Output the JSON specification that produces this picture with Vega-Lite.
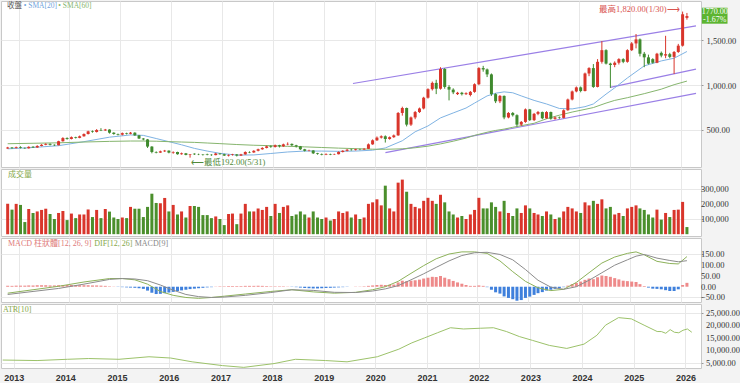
{
"$schema": "https://vega.github.io/schema/vega-lite/v6.json",
"padding": 0,
"spacing": 0,
"background": "#f3f3f3",
"config": {
  "view": {"stroke": "#c8c8c8", "fill": "white"},
  "axis": {"labelFont": "Liberation Serif", "labelFontSize": 8.5, "labelColor": "#333", "gridColor": "#e8e8e8", "domain": false, "tickColor": "#999", "tickSize": 2, "title": null, "labelOverlap": false, "labelBound": false},
  "text": {"font": "Liberation Serif, Noto Sans CJK TC", "fontSize": 8}
},
"datasets": {
"one": [{}],
"yv": [{"y":100000},{"y":200000},{"y":300000}],
"ym": [{"y":-50},{"y":0},{"y":50},{"y":100},{"y":150}],
"ya": [{"y":5000},{"y":10000},{"y":15000},{"y":20000},{"y":25000}],
"m": [
{"d":"2012-10-15","o":295,"h":312,"l":290,"c":305,"v":200000,"vr":1,"mh":4},
{"d":"2012-11-15","o":305,"h":310,"l":290,"c":298,"v":162000,"vr":0,"mh":4},
{"d":"2012-12-15","o":298,"h":315,"l":295,"c":308,"v":200000,"vr":1,"mh":5},
{"d":"2013-01-15","o":308,"h":318,"l":295,"c":300,"v":193000,"vr":0,"mh":5},
{"d":"2013-02-15","o":300,"h":305,"l":290,"c":296,"v":80000,"vr":0,"mh":5},
{"d":"2013-03-15","o":296,"h":318,"l":293,"c":312,"v":166000,"vr":1,"mh":6},
{"d":"2013-04-15","o":312,"h":320,"l":300,"c":305,"v":140000,"vr":0,"mh":6},
{"d":"2013-05-15","o":305,"h":330,"l":302,"c":322,"v":150000,"vr":1,"mh":7},
{"d":"2013-06-15","o":322,"h":342,"l":318,"c":335,"v":160000,"vr":1,"mh":7},
{"d":"2013-07-15","o":335,"h":352,"l":330,"c":345,"v":168000,"vr":1,"mh":7},
{"d":"2013-08-15","o":345,"h":350,"l":328,"c":335,"v":133000,"vr":0,"mh":6},
{"d":"2013-09-15","o":335,"h":340,"l":322,"c":330,"v":100000,"vr":0,"mh":6},
{"d":"2013-10-15","o":330,"h":380,"l":328,"c":375,"v":140000,"vr":1,"mh":7},
{"d":"2013-11-15","o":375,"h":420,"l":370,"c":410,"v":153000,"vr":1,"mh":8},
{"d":"2013-12-15","o":410,"h":418,"l":392,"c":400,"v":93000,"vr":0,"mh":8},
{"d":"2014-01-15","o":400,"h":428,"l":395,"c":420,"v":136000,"vr":1,"mh":8},
{"d":"2014-02-15","o":420,"h":425,"l":405,"c":412,"v":106000,"vr":0,"mh":7},
{"d":"2014-03-15","o":412,"h":438,"l":408,"c":430,"v":130000,"vr":1,"mh":7},
{"d":"2014-04-15","o":430,"h":462,"l":425,"c":455,"v":130000,"vr":1,"mh":7},
{"d":"2014-05-15","o":455,"h":492,"l":450,"c":485,"v":163000,"vr":1,"mh":7},
{"d":"2014-06-15","o":485,"h":495,"l":470,"c":478,"v":113000,"vr":0,"mh":6},
{"d":"2014-07-15","o":478,"h":510,"l":472,"c":500,"v":160000,"vr":1,"mh":6},
{"d":"2014-08-15","o":500,"h":520,"l":488,"c":495,"v":106000,"vr":0,"mh":5},
{"d":"2014-09-15","o":495,"h":512,"l":490,"c":505,"v":166000,"vr":1,"mh":4},
{"d":"2014-10-15","o":505,"h":508,"l":460,"c":470,"v":149000,"vr":0,"mh":2},
{"d":"2014-11-15","o":470,"h":475,"l":448,"c":455,"v":110000,"vr":0,"mh":1},
{"d":"2014-12-15","o":455,"h":460,"l":440,"c":448,"v":100000,"vr":0,"mh":-1},
{"d":"2015-01-15","o":448,"h":472,"l":440,"c":465,"v":110000,"vr":1,"mh":-2},
{"d":"2015-02-15","o":465,"h":470,"l":450,"c":458,"v":106000,"vr":0,"mh":-3},
{"d":"2015-03-15","o":458,"h":478,"l":452,"c":470,"v":180000,"vr":1,"mh":-4},
{"d":"2015-04-15","o":470,"h":475,"l":435,"c":440,"v":168000,"vr":0,"mh":-5},
{"d":"2015-05-15","o":440,"h":445,"l":400,"c":405,"v":168000,"vr":0,"mh":-7},
{"d":"2015-06-15","o":405,"h":410,"l":385,"c":395,"v":113000,"vr":0,"mh":-10},
{"d":"2015-07-15","o":395,"h":400,"l":300,"c":315,"v":180000,"vr":0,"mh":-18},
{"d":"2015-08-15","o":315,"h":320,"l":240,"c":255,"v":267000,"vr":0,"mh":-28},
{"d":"2015-09-15","o":255,"h":262,"l":240,"c":248,"v":206000,"vr":0,"mh":-34},
{"d":"2015-10-15","o":248,"h":270,"l":245,"c":262,"v":204000,"vr":1,"mh":-33},
{"d":"2015-11-15","o":262,"h":278,"l":255,"c":270,"v":239000,"vr":1,"mh":-30},
{"d":"2015-12-15","o":270,"h":272,"l":240,"c":248,"v":150000,"vr":0,"mh":-27},
{"d":"2016-01-15","o":248,"h":262,"l":235,"c":255,"v":193000,"vr":1,"mh":-24},
{"d":"2016-02-15","o":255,"h":258,"l":225,"c":230,"v":130000,"vr":0,"mh":-20},
{"d":"2016-03-15","o":230,"h":248,"l":225,"c":240,"v":150000,"vr":1,"mh":-17},
{"d":"2016-04-15","o":240,"h":244,"l":218,"c":222,"v":110000,"vr":0,"mh":-14},
{"d":"2016-05-15","o":222,"h":232,"l":192,"c":228,"v":186000,"vr":1,"mh":-11},
{"d":"2016-06-15","o":236,"h":240,"l":222,"c":229,"v":186000,"vr":0,"mh":-9},
{"d":"2016-07-15","o":229,"h":236,"l":220,"c":226,"v":180000,"vr":0,"mh":-7},
{"d":"2016-08-15","o":226,"h":232,"l":215,"c":222,"v":126000,"vr":0,"mh":-5},
{"d":"2016-09-15","o":230,"h":236,"l":218,"c":224,"v":126000,"vr":0,"mh":-3},
{"d":"2016-10-15","o":224,"h":230,"l":212,"c":220,"v":106000,"vr":0,"mh":-2},
{"d":"2016-11-15","o":220,"h":245,"l":218,"c":238,"v":117000,"vr":1,"mh":1},
{"d":"2016-12-15","o":238,"h":242,"l":225,"c":230,"v":100000,"vr":0,"mh":2},
{"d":"2017-01-15","o":230,"h":235,"l":210,"c":215,"v":60000,"vr":0,"mh":2},
{"d":"2017-02-15","o":215,"h":228,"l":205,"c":222,"v":133000,"vr":1,"mh":3},
{"d":"2017-03-15","o":222,"h":234,"l":215,"c":228,"v":136000,"vr":1,"mh":3},
{"d":"2017-04-15","o":228,"h":232,"l":205,"c":215,"v":66000,"vr":0,"mh":3},
{"d":"2017-05-15","o":215,"h":234,"l":210,"c":228,"v":136000,"vr":1,"mh":3},
{"d":"2017-06-15","o":228,"h":262,"l":225,"c":255,"v":200000,"vr":1,"mh":4},
{"d":"2017-07-15","o":255,"h":262,"l":242,"c":250,"v":150000,"vr":0,"mh":4},
{"d":"2017-08-15","o":250,"h":275,"l":245,"c":268,"v":150000,"vr":1,"mh":4},
{"d":"2017-09-15","o":268,"h":292,"l":262,"c":285,"v":170000,"vr":1,"mh":4},
{"d":"2017-10-15","o":285,"h":308,"l":280,"c":300,"v":160000,"vr":1,"mh":4},
{"d":"2017-11-15","o":300,"h":326,"l":295,"c":318,"v":180000,"vr":1,"mh":3},
{"d":"2017-12-15","o":318,"h":330,"l":302,"c":310,"v":120000,"vr":0,"mh":2},
{"d":"2018-01-15","o":310,"h":338,"l":305,"c":330,"v":200000,"vr":1,"mh":2},
{"d":"2018-02-15","o":330,"h":335,"l":305,"c":318,"v":140000,"vr":0,"mh":2},
{"d":"2018-03-15","o":318,"h":348,"l":312,"c":340,"v":180000,"vr":1,"mh":2},
{"d":"2018-04-15","o":340,"h":362,"l":330,"c":345,"v":190000,"vr":1,"mh":1},
{"d":"2018-05-15","o":345,"h":350,"l":322,"c":330,"v":120000,"vr":0,"mh":-1},
{"d":"2018-06-15","o":330,"h":335,"l":305,"c":318,"v":130000,"vr":0,"mh":-2},
{"d":"2018-07-15","o":318,"h":322,"l":278,"c":285,"v":150000,"vr":0,"mh":-4},
{"d":"2018-08-15","o":285,"h":290,"l":260,"c":268,"v":130000,"vr":0,"mh":-6},
{"d":"2018-09-15","o":268,"h":280,"l":262,"c":272,"v":110000,"vr":1,"mh":-7},
{"d":"2018-10-15","o":272,"h":275,"l":232,"c":240,"v":150000,"vr":0,"mh":-8},
{"d":"2018-11-15","o":240,"h":245,"l":225,"c":232,"v":110000,"vr":0,"mh":-8},
{"d":"2018-12-15","o":232,"h":238,"l":218,"c":225,"v":100000,"vr":0,"mh":-7},
{"d":"2019-01-15","o":225,"h":240,"l":220,"c":232,"v":110000,"vr":1,"mh":-6},
{"d":"2019-02-15","o":232,"h":236,"l":220,"c":226,"v":90000,"vr":0,"mh":-5},
{"d":"2019-03-15","o":226,"h":236,"l":222,"c":230,"v":100000,"vr":1,"mh":-4},
{"d":"2019-04-15","o":230,"h":262,"l":228,"c":255,"v":150000,"vr":1,"mh":-3},
{"d":"2019-05-15","o":255,"h":275,"l":250,"c":268,"v":140000,"vr":1,"mh":-2},
{"d":"2019-06-15","o":268,"h":288,"l":262,"c":280,"v":150000,"vr":1,"mh":-1},
{"d":"2019-07-15","o":280,"h":290,"l":270,"c":276,"v":110000,"vr":0,"mh":0},
{"d":"2019-08-15","o":276,"h":292,"l":272,"c":285,"v":130000,"vr":1,"mh":1},
{"d":"2019-09-15","o":285,"h":292,"l":275,"c":282,"v":100000,"vr":0,"mh":1},
{"d":"2019-10-15","o":282,"h":298,"l":278,"c":290,"v":110000,"vr":1,"mh":2},
{"d":"2019-11-15","o":290,"h":350,"l":288,"c":340,"v":200000,"vr":1,"mh":4},
{"d":"2019-12-15","o":340,"h":395,"l":335,"c":385,"v":210000,"vr":1,"mh":6},
{"d":"2020-01-15","o":385,"h":428,"l":378,"c":415,"v":230000,"vr":1,"mh":8},
{"d":"2020-02-15","o":415,"h":440,"l":405,"c":430,"v":190000,"vr":1,"mh":9},
{"d":"2020-03-15","o":430,"h":440,"l":360,"c":400,"v":320000,"vr":0,"mh":8},
{"d":"2020-04-15","o":400,"h":428,"l":392,"c":420,"v":170000,"vr":1,"mh":9},
{"d":"2020-05-15","o":420,"h":450,"l":412,"c":440,"v":150000,"vr":1,"mh":10},
{"d":"2020-06-15","o":440,"h":700,"l":435,"c":690,"v":340000,"vr":1,"mh":20},
{"d":"2020-07-15","o":690,"h":760,"l":660,"c":745,"v":360000,"vr":1,"mh":28},
{"d":"2020-08-15","o":745,"h":750,"l":540,"c":560,"v":280000,"vr":0,"mh":26},
{"d":"2020-09-15","o":560,"h":650,"l":545,"c":640,"v":200000,"vr":1,"mh":28},
{"d":"2020-10-15","o":640,"h":712,"l":620,"c":700,"v":180000,"vr":1,"mh":30},
{"d":"2020-11-15","o":700,"h":750,"l":690,"c":740,"v":170000,"vr":1,"mh":33},
{"d":"2020-12-15","o":740,"h":870,"l":730,"c":860,"v":220000,"vr":1,"mh":38},
{"d":"2021-01-15","o":860,"h":965,"l":850,"c":955,"v":240000,"vr":1,"mh":42},
{"d":"2021-02-15","o":955,"h":1040,"l":940,"c":1025,"v":220000,"vr":1,"mh":46},
{"d":"2021-03-15","o":1025,"h":1060,"l":900,"c":960,"v":200000,"vr":0,"mh":45},
{"d":"2021-04-15","o":960,"h":1200,"l":950,"c":1180,"v":260000,"vr":1,"mh":50},
{"d":"2021-05-15","o":1180,"h":1190,"l":960,"c":980,"v":210000,"vr":0,"mh":42},
{"d":"2021-06-15","o":980,"h":1000,"l":830,"c":950,"v":150000,"vr":0,"mh":35},
{"d":"2021-07-15","o":950,"h":965,"l":900,"c":920,"v":130000,"vr":0,"mh":27},
{"d":"2021-08-15","o":900,"h":925,"l":890,"c":915,"v":110000,"vr":1,"mh":20},
{"d":"2021-09-15","o":915,"h":925,"l":885,"c":900,"v":120000,"vr":0,"mh":14},
{"d":"2021-10-15","o":900,"h":920,"l":890,"c":910,"v":100000,"vr":1,"mh":8},
{"d":"2021-11-15","o":890,"h":935,"l":875,"c":925,"v":130000,"vr":1,"mh":4},
{"d":"2021-12-15","o":925,"h":1020,"l":915,"c":1010,"v":160000,"vr":1,"mh":4},
{"d":"2022-01-15","o":1010,"h":1200,"l":1000,"c":1190,"v":240000,"vr":1,"mh":6},
{"d":"2022-02-15","o":1190,"h":1215,"l":1150,"c":1175,"v":170000,"vr":0,"mh":4},
{"d":"2022-03-15","o":1175,"h":1185,"l":1090,"c":1120,"v":170000,"vr":0,"mh":-2},
{"d":"2022-04-15","o":1120,"h":1130,"l":880,"c":900,"v":210000,"vr":0,"mh":-14},
{"d":"2022-05-15","o":900,"h":910,"l":800,"c":820,"v":180000,"vr":0,"mh":-26},
{"d":"2022-06-15","o":820,"h":890,"l":800,"c":880,"v":150000,"vr":1,"mh":-32},
{"d":"2022-07-15","o":880,"h":885,"l":620,"c":640,"v":220000,"vr":0,"mh":-45},
{"d":"2022-08-15","o":640,"h":700,"l":630,"c":690,"v":140000,"vr":1,"mh":-52},
{"d":"2022-09-15","o":690,"h":700,"l":650,"c":665,"v":120000,"vr":0,"mh":-58},
{"d":"2022-10-15","o":665,"h":675,"l":540,"c":560,"v":170000,"vr":0,"mh":-65},
{"d":"2022-11-15","o":560,"h":600,"l":545,"c":590,"v":140000,"vr":1,"mh":-62},
{"d":"2022-12-15","o":590,"h":740,"l":580,"c":730,"v":190000,"vr":1,"mh":-52},
{"d":"2023-01-15","o":730,"h":735,"l":600,"c":610,"v":170000,"vr":0,"mh":-46},
{"d":"2023-02-15","o":610,"h":690,"l":600,"c":680,"v":140000,"vr":1,"mh":-38},
{"d":"2023-03-15","o":680,"h":712,"l":665,"c":700,"v":130000,"vr":1,"mh":-30},
{"d":"2023-04-15","o":700,"h":705,"l":620,"c":630,"v":120000,"vr":0,"mh":-25},
{"d":"2023-05-15","o":630,"h":710,"l":625,"c":700,"v":150000,"vr":1,"mh":-18},
{"d":"2023-06-15","o":700,"h":705,"l":615,"c":625,"v":130000,"vr":0,"mh":-14},
{"d":"2023-07-15","o":625,"h":650,"l":615,"c":640,"v":100000,"vr":1,"mh":-10},
{"d":"2023-08-15","o":640,"h":650,"l":625,"c":635,"v":110000,"vr":0,"mh":-6},
{"d":"2023-09-15","o":635,"h":730,"l":630,"c":720,"v":150000,"vr":1,"mh":-2},
{"d":"2023-10-15","o":720,"h":850,"l":715,"c":840,"v":180000,"vr":1,"mh":5},
{"d":"2023-11-15","o":840,"h":940,"l":830,"c":930,"v":170000,"vr":1,"mh":12},
{"d":"2023-12-15","o":930,"h":985,"l":920,"c":975,"v":150000,"vr":1,"mh":18},
{"d":"2024-01-15","o":975,"h":985,"l":920,"c":935,"v":140000,"vr":0,"mh":24},
{"d":"2024-02-15","o":935,"h":1140,"l":930,"c":1130,"v":210000,"vr":1,"mh":32},
{"d":"2024-03-15","o":1130,"h":1200,"l":1100,"c":1190,"v":190000,"vr":1,"mh":38},
{"d":"2024-04-15","o":1190,"h":1235,"l":970,"c":980,"v":220000,"vr":0,"mh":35},
{"d":"2024-05-15","o":980,"h":1290,"l":975,"c":1260,"v":200000,"vr":1,"mh":44},
{"d":"2024-06-15","o":1260,"h":1490,"l":1240,"c":1390,"v":230000,"vr":1,"mh":52},
{"d":"2024-07-15","o":1390,"h":1400,"l":1230,"c":1240,"v":170000,"vr":0,"mh":50},
{"d":"2024-08-15","o":1240,"h":1250,"l":970,"c":1225,"v":180000,"vr":0,"mh":46},
{"d":"2024-09-15","o":1225,"h":1265,"l":1200,"c":1250,"v":130000,"vr":1,"mh":40},
{"d":"2024-10-15","o":1250,"h":1300,"l":1230,"c":1290,"v":140000,"vr":1,"mh":34},
{"d":"2024-11-15","o":1290,"h":1300,"l":1245,"c":1260,"v":120000,"vr":0,"mh":28},
{"d":"2024-12-15","o":1260,"h":1400,"l":1250,"c":1390,"v":170000,"vr":1,"mh":26},
{"d":"2025-01-15","o":1390,"h":1480,"l":1380,"c":1465,"v":180000,"vr":1,"mh":24},
{"d":"2025-02-15","o":1465,"h":1570,"l":1410,"c":1510,"v":190000,"vr":1,"mh":22},
{"d":"2025-03-15","o":1510,"h":1520,"l":1320,"c":1350,"v":170000,"vr":0,"mh":12},
{"d":"2025-04-15","o":1350,"h":1370,"l":1200,"c":1310,"v":160000,"vr":0,"mh":3},
{"d":"2025-05-15","o":1310,"h":1340,"l":1230,"c":1240,"v":130000,"vr":0,"mh":-4},
{"d":"2025-06-15","o":1290,"h":1300,"l":1240,"c":1250,"v":110000,"vr":0,"mh":-9},
{"d":"2025-07-15","o":1250,"h":1360,"l":1245,"c":1350,"v":162000,"vr":1,"mh":-10},
{"d":"2025-08-15","o":1360,"h":1375,"l":1310,"c":1330,"v":96000,"vr":0,"mh":-12},
{"d":"2025-09-15","o":1330,"h":1550,"l":1300,"c":1345,"v":140000,"vr":1,"mh":-16},
{"d":"2025-10-15","o":1345,"h":1360,"l":1300,"c":1315,"v":113000,"vr":0,"mh":-20},
{"d":"2025-11-15","o":1315,"h":1380,"l":1125,"c":1370,"v":160000,"vr":1,"mh":-20},
{"d":"2025-12-15","o":1370,"h":1460,"l":1360,"c":1440,"v":162000,"vr":1,"mh":-12},
{"d":"2026-01-15","o":1440,"h":1820,"l":1430,"c":1790,"v":213000,"vr":1,"mh":8},
{"d":"2026-02-15","o":1750,"h":1805,"l":1730,"c":1770,"v":47000,"vr":0,"mh":18}
],
"sma": [
{"d":"2012-10-15","s20":290,"s60":347},{"d":"2013-04-15","s20":305,"s60":352},{"d":"2013-10-15","s20":325,"s60":357},
{"d":"2014-04-15","s20":370,"s60":366},{"d":"2014-10-15","s20":420,"s60":373},{"d":"2015-03-15","s20":445,"s60":377},
{"d":"2015-06-15","s20":440,"s60":377},{"d":"2015-09-15","s20":405,"s60":375},{"d":"2015-12-15","s20":370,"s60":370},
{"d":"2016-03-15","s20":335,"s60":366},{"d":"2016-06-15","s20":295,"s60":362},{"d":"2016-09-15","s20":265,"s60":355},
{"d":"2016-12-15","s20":240,"s60":348},{"d":"2017-04-15","s20":220,"s60":338},{"d":"2017-08-15","s20":222,"s60":330},
{"d":"2017-12-15","s20":238,"s60":325},{"d":"2018-04-15","s20":255,"s60":318},{"d":"2018-08-15","s20":265,"s60":312},
{"d":"2018-12-15","s20":265,"s60":305},{"d":"2019-04-15","s20":262,"s60":298},{"d":"2019-08-15","s20":265,"s60":292},
{"d":"2019-12-15","s20":275,"s60":286},{"d":"2020-03-15","s20":300,"s60":285},{"d":"2020-07-15","s20":380,"s60":290},
{"d":"2020-10-15","s20":480,"s60":302},{"d":"2021-01-15","s20":545,"s60":320},{"d":"2021-04-15","s20":635,"s60":345},
{"d":"2021-07-15","s20":690,"s60":375},{"d":"2021-10-15","s20":745,"s60":410},{"d":"2021-12-15","s20":800,"s60":440},
{"d":"2022-03-15","s20":880,"s60":475},{"d":"2022-05-15","s20":910,"s60":495},{"d":"2022-07-15","s20":925,"s60":510},
{"d":"2022-09-15","s20":915,"s60":530},{"d":"2022-11-15","s20":880,"s60":548},{"d":"2023-02-15","s20":830,"s60":575},
{"d":"2023-05-15","s20":790,"s60":625},{"d":"2023-08-15","s20":740,"s60":665},{"d":"2023-11-15","s20":735,"s60":700},
{"d":"2024-02-15","s20":760,"s60":730},{"d":"2024-04-15","s20":790,"s60":750},{"d":"2024-07-15","s20":900,"s60":800},
{"d":"2024-09-15","s20":970,"s60":830},{"d":"2024-12-15","s20":1080,"s60":860},{"d":"2025-04-15","s20":1215,"s60":905},
{"d":"2025-08-15","s20":1270,"s60":955},{"d":"2025-11-15","s20":1300,"s60":1005},{"d":"2026-02-15","s20":1375,"s60":1045}
],
"ch": [
{"k":"up","d":"2019-07-27","p":1018},{"k":"up","d":"2026-04-21","p":1661},
{"k":"lo","d":"2020-03-16","p":247},{"k":"lo","d":"2026-04-21","p":909},
{"k":"mid","d":"2024-08-14","p":975},{"k":"mid","d":"2026-04-21","p":1178}
],
"md": [
{"d":"2012-10-15","dif":-30,"sig":-36},{"d":"2013-04-15","dif":-14,"sig":-22},{"d":"2013-10-15","dif":2,"sig":-8},
{"d":"2014-04-15","dif":22,"sig":12},{"d":"2014-10-15","dif":38,"sig":34},{"d":"2015-01-15","dif":38,"sig":38},
{"d":"2015-04-15","dif":32,"sig":36},{"d":"2015-07-15","dif":12,"sig":28},{"d":"2015-10-15","dif":-22,"sig":8},
{"d":"2016-01-15","dif":-40,"sig":-16},{"d":"2016-04-15","dif":-50,"sig":-36},{"d":"2016-07-15","dif":-54,"sig":-46},
{"d":"2016-10-15","dif":-50,"sig":-50},{"d":"2017-01-15","dif":-44,"sig":-48},{"d":"2017-06-15","dif":-34,"sig":-40},
{"d":"2017-12-15","dif":-22,"sig":-27},{"d":"2018-05-15","dif":-14,"sig":-14},{"d":"2018-10-15","dif":-24,"sig":-17},
{"d":"2019-03-15","dif":-30,"sig":-26},{"d":"2019-08-15","dif":-26,"sig":-27},{"d":"2019-12-15","dif":-14,"sig":-20},
{"d":"2020-03-15","dif":0,"sig":-10},{"d":"2020-06-15","dif":25,"sig":5},{"d":"2020-09-15","dif":62,"sig":32},
{"d":"2020-12-15","dif":98,"sig":60},{"d":"2021-03-15","dif":130,"sig":90},{"d":"2021-06-15","dif":152,"sig":120},
{"d":"2021-09-15","dif":162,"sig":145},{"d":"2021-12-15","dif":162,"sig":158},{"d":"2022-03-15","dif":155,"sig":160},
{"d":"2022-06-15","dif":120,"sig":150},{"d":"2022-09-15","dif":70,"sig":125},{"d":"2022-12-15","dif":25,"sig":80},
{"d":"2023-03-15","dif":-5,"sig":30},{"d":"2023-06-15","dif":-18,"sig":-2},{"d":"2023-09-15","dif":-12,"sig":-12},
{"d":"2023-12-15","dif":20,"sig":0},{"d":"2024-03-15","dif":65,"sig":30},{"d":"2024-06-15","dif":110,"sig":65},
{"d":"2024-09-15","dif":138,"sig":100},{"d":"2024-12-15","dif":155,"sig":125},{"d":"2025-02-15","dif":162,"sig":142},
{"d":"2025-04-15","dif":148,"sig":150},{"d":"2025-07-15","dif":118,"sig":133},{"d":"2025-10-15","dif":108,"sig":122},
{"d":"2025-12-15","dif":106,"sig":116},{"d":"2026-02-15","dif":140,"sig":121}
],
"atr": [
{"d":"2012-10-15","a":6200},{"d":"2013-06-15","a":6000},{"d":"2014-01-15","a":6500},{"d":"2014-06-15","a":6800},
{"d":"2015-01-15","a":6500},{"d":"2015-08-15","a":7500},{"d":"2016-01-15","a":7000},{"d":"2016-06-15","a":5500},
{"d":"2017-01-15","a":4000},{"d":"2017-06-15","a":3300},{"d":"2018-01-15","a":4800},{"d":"2018-06-15","a":6500},
{"d":"2019-01-15","a":6000},{"d":"2019-06-15","a":5500},{"d":"2020-01-15","a":7500},{"d":"2020-06-15","a":10500},
{"d":"2020-09-15","a":13000},{"d":"2020-12-15","a":15000},{"d":"2021-03-15","a":17000},{"d":"2021-06-15","a":19000},
{"d":"2021-09-15","a":18500},{"d":"2022-01-15","a":18800},{"d":"2022-04-15","a":19000},{"d":"2022-07-15","a":17500},
{"d":"2022-10-15","a":15500},{"d":"2023-01-15","a":14000},{"d":"2023-05-15","a":12000},{"d":"2023-09-15","a":10800},
{"d":"2024-01-15","a":12500},{"d":"2024-04-15","a":16000},{"d":"2024-06-15","a":20000},{"d":"2024-09-15","a":23000},
{"d":"2024-12-15","a":22500},{"d":"2025-03-15","a":20000},{"d":"2025-06-15","a":17500},{"d":"2025-07-15","a":17480},
{"d":"2025-08-15","a":16800},{"d":"2025-09-15","a":18250},{"d":"2025-10-15","a":17200},{"d":"2025-11-15","a":17000},
{"d":"2025-12-15","a":18000},{"d":"2026-01-15","a":18500},{"d":"2026-02-15","a":17200}
]
},
"vconcat": [
{
  "width": 700, "height": 166,
  "layer": [
    {"data": {"name": "ch"}, "mark": {"type": "line", "color": "#9a7fe6", "strokeWidth": 1.2},
     "encoding": {"x": {"field": "d", "type": "temporal", "scale": {"domain": [{"year":2012,"month":10,"date":3},{"year":2026,"month":4,"date":21}]}, "axis": {"labels": false, "ticks": false, "tickCount": {"interval": "year", "step": 1}, "grid": true}},
                  "y": {"field": "p", "type": "quantitative", "scale": {"domain": [87.5, 1938], "nice": false, "zero": false}, "axis": {"orient": "right", "values": [500, 1000, 1500], "format": ",.2f", "grid": true, "labelPadding": 3, "labelOverlap": false}},
                  "detail": {"field": "k"}}},
    {"data": {"name": "sma"}, "mark": {"type": "line", "color": "#7fb3e3", "strokeWidth": 1},
     "encoding": {"x": {"field": "d", "type": "temporal"}, "y": {"field": "s20", "type": "quantitative"}}},
    {"data": {"name": "sma"}, "mark": {"type": "line", "color": "#86b56e", "strokeWidth": 1},
     "encoding": {"x": {"field": "d", "type": "temporal"}, "y": {"field": "s60", "type": "quantitative"}}},
    {"data": {"name": "m"}, "mark": {"type": "rule", "strokeWidth": 1},
     "encoding": {"x": {"field": "d", "type": "temporal"}, "y": {"field": "l", "type": "quantitative"}, "y2": {"field": "h"},
                  "color": {"condition": {"test": "datum.c >= datum.o", "value": "#d9352b"}, "value": "#3f8a2e"}}},
    {"data": {"name": "m"}, "mark": {"type": "bar", "width": 3},
     "encoding": {"x": {"field": "d", "type": "temporal"}, "y": {"field": "o", "type": "quantitative"}, "y2": {"field": "c"},
                  "color": {"condition": {"test": "datum.c >= datum.o", "value": "#d9352b"}, "value": "#3f8a2e"}}},
    {"data": {"name": "one"}, "mark": {"type": "text", "align": "right", "baseline": "middle", "color": "#d9534f", "dx": -3, "dy": -3, "fontSize": 8.5},
     "encoding": {"x": {"datum": {"year":2026,"month":1,"date":15}, "type": "temporal"}, "y": {"datum": 1820, "type": "quantitative"}, "text": {"value": "最高1,820.00(1/30)⟶"}}},
    {"data": {"name": "one"}, "mark": {"type": "text", "align": "left", "baseline": "middle", "color": "#4f8a3a", "dx": 1, "dy": 4, "fontSize": 8.5},
     "encoding": {"x": {"datum": {"year":2016,"month":5,"date":15}, "type": "temporal"}, "y": {"datum": 192, "type": "quantitative"}, "text": {"value": "⟵最低192.00(5/31)"}}},
    {"data": {"name": "one"}, "mark": {"type": "text", "align": "left", "baseline": "top", "color": "#555", "dx": 1, "dy": 1, "fontSize": 7.5},
     "encoding": {"x": {"datum": {"year":2012,"month":10,"date":3}, "type": "temporal"}, "y": {"datum": 1938, "type": "quantitative"}, "text": {"value": "收盤"}}},
    {"data": {"name": "one"}, "mark": {"type": "text", "align": "left", "baseline": "top", "color": "#6fa3dd", "dy": 1, "fontSize": 7.5},
     "encoding": {"x": {"datum": {"year":2013,"month":2,"date":7}, "type": "temporal"}, "y": {"datum": 1938, "type": "quantitative"}, "text": {"value": "• SMA[20]"}}},
    {"data": {"name": "one"}, "mark": {"type": "text", "align": "left", "baseline": "top", "color": "#86b56e", "dy": 1, "fontSize": 7.5},
     "encoding": {"x": {"datum": {"year":2013,"month":10,"date":13}, "type": "temporal"}, "y": {"datum": 1938, "type": "quantitative"}, "text": {"value": "• SMA[60]"}}},
    {"data": {"name": "one"}, "mark": {"type": "rect", "color": "#5cb531"},
     "encoding": {"x": {"datum": {"year":2026,"month":6,"date":2}, "type": "temporal"}, "x2": {"datum": {"year":2026,"month":12,"date":3}}, "y": {"datum": 1863, "type": "quantitative"}, "y2": {"datum": 1685}}},
    {"data": {"name": "one"}, "mark": {"type": "text", "align": "center", "baseline": "middle", "color": "white", "fontSize": 8},
     "encoding": {"x": {"datum": {"year":2026,"month":9,"date":2}, "type": "temporal"}, "y": {"datum": 1820, "type": "quantitative"}, "text": {"value": "1770.00"}}},
    {"data": {"name": "one"}, "mark": {"type": "text", "align": "center", "baseline": "middle", "color": "white", "fontSize": 8},
     "encoding": {"x": {"datum": {"year":2026,"month":9,"date":2}, "type": "temporal"}, "y": {"datum": 1729, "type": "quantitative"}, "text": {"value": "-1.67%"}}}
  ]
},
{
  "width": 700, "height": 67,
  "layer": [
    {"data": {"name": "m"}, "mark": {"type": "bar", "width": 3},
     "encoding": {"x": {"field": "d", "type": "temporal", "scale": {"domain": [{"year":2012,"month":10,"date":3},{"year":2026,"month":4,"date":21}]}, "axis": {"labels": false, "ticks": false, "tickCount": {"interval": "year", "step": 1}, "grid": true}},
                  "y": {"field": "v", "type": "quantitative", "scale": {"domain": [-12000, 430000], "nice": false, "zero": false}, "axis": {"orient": "right", "values": [100000, 200000, 300000], "labels": false, "grid": true}},
                  "y2": {"datum": 0},
                  "color": {"condition": {"test": "datum.vr == 1", "value": "#d9352b"}, "value": "#4b8f2c"}}},
    {"data": {"name": "yv"}, "mark": {"type": "text", "align": "left", "baseline": "middle", "dx": 5, "font": "Liberation Serif", "fontSize": 8.5, "color": "#333"},
     "encoding": {"x": {"datum": {"year":2026,"month":4,"date":21}, "type": "temporal"}, "y": {"field": "y", "type": "quantitative"}, "text": {"field": "y", "type": "quantitative", "format": ",d"}}},
    {"data": {"name": "one"}, "mark": {"type": "text", "align": "left", "baseline": "top", "color": "#86a84a", "dx": 2, "dy": 2},
     "encoding": {"x": {"datum": {"year":2012,"month":10,"date":3}, "type": "temporal"}, "y": {"datum": 430000, "type": "quantitative"}, "text": {"value": "成交量"}}}
  ]
},
{
  "width": 700, "height": 64,
  "layer": [
    {"data": {"name": "m"}, "mark": {"type": "bar", "width": 3},
     "encoding": {"x": {"field": "d", "type": "temporal", "scale": {"domain": [{"year":2012,"month":10,"date":3},{"year":2026,"month":4,"date":21}]}, "axis": {"labels": false, "ticks": false, "tickCount": {"interval": "year", "step": 1}, "grid": true}},
                  "y": {"field": "mh", "type": "quantitative", "scale": {"domain": [-71, 226.5], "nice": false, "zero": false}, "axis": {"orient": "right", "values": [-50, 0, 50, 100, 150], "labels": false, "grid": true}},
                  "y2": {"datum": 0},
                  "color": {"condition": {"test": "datum.mh >= 0", "value": "#ee8a8a"}, "value": "#3f80dc"}}},
    {"data": {"name": "md"}, "mark": {"type": "line", "color": "#8db25a", "strokeWidth": 1},
     "encoding": {"x": {"field": "d", "type": "temporal"}, "y": {"field": "dif", "type": "quantitative"}}},
    {"data": {"name": "md"}, "mark": {"type": "line", "color": "#8c8c8c", "strokeWidth": 1},
     "encoding": {"x": {"field": "d", "type": "temporal"}, "y": {"field": "sig", "type": "quantitative"}}},
    {"data": {"name": "ym"}, "mark": {"type": "text", "align": "left", "baseline": "middle", "dx": 5, "font": "Liberation Serif", "fontSize": 8.5, "color": "#333"},
     "encoding": {"x": {"datum": {"year":2026,"month":4,"date":21}, "type": "temporal"}, "y": {"field": "y", "type": "quantitative"}, "text": {"field": "y", "type": "quantitative", "format": ".2f"}}},
    {"data": {"name": "one"}, "mark": {"type": "text", "align": "left", "baseline": "top", "color": "#e07a7a", "dx": 2, "dy": 2},
     "encoding": {"x": {"datum": {"year":2012,"month":10,"date":3}, "type": "temporal"}, "y": {"datum": 226.5, "type": "quantitative"}, "text": {"value": "MACD 柱狀體[12, 26, 9]"}}},
    {"data": {"name": "one"}, "mark": {"type": "text", "align": "left", "baseline": "top", "color": "#86a84a", "dy": 2},
     "encoding": {"x": {"datum": {"year":2014,"month":6,"date":28}, "type": "temporal"}, "y": {"datum": 226.5, "type": "quantitative"}, "text": {"value": "DIF[12, 26]"}}},
    {"data": {"name": "one"}, "mark": {"type": "text", "align": "left", "baseline": "top", "color": "#888", "dy": 2},
     "encoding": {"x": {"datum": {"year":2015,"month":4,"date":14}, "type": "temporal"}, "y": {"datum": 226.5, "type": "quantitative"}, "text": {"value": "MACD[9]"}}}
  ]
},
{
  "width": 700, "height": 64,
  "layer": [
    {"data": {"name": "atr"}, "mark": {"type": "line", "color": "#9cc26a", "strokeWidth": 1},
     "encoding": {"x": {"field": "d", "type": "temporal", "scale": {"domain": [{"year":2012,"month":10,"date":3},{"year":2026,"month":4,"date":21}]}, "axis": {"format": "%Y", "labelFont": "Liberation Sans", "labelFontWeight": "bold", "labelFontSize": 9, "labelColor": "#333", "ticks": false, "labelPadding": 5, "tickCount": {"interval": "year", "step": 1}, "grid": true}},
                  "y": {"field": "a", "type": "quantitative", "scale": {"domain": [3050, 28392], "nice": false, "zero": false}, "axis": {"orient": "right", "values": [5000, 10000, 15000, 20000, 25000], "labels": false, "grid": true}}}},
    {"data": {"name": "ya"}, "mark": {"type": "text", "align": "left", "baseline": "middle", "dx": 5, "font": "Liberation Serif", "fontSize": 8.5, "color": "#333"},
     "encoding": {"x": {"datum": {"year":2026,"month":4,"date":21}, "type": "temporal"}, "y": {"field": "y", "type": "quantitative"}, "text": {"field": "y", "type": "quantitative", "format": ",.2f"}}},
    {"data": {"name": "one"}, "mark": {"type": "text", "align": "left", "baseline": "top", "color": "#86a84a", "dx": 2, "dy": 2},
     "encoding": {"x": {"datum": {"year":2012,"month":10,"date":3}, "type": "temporal"}, "y": {"datum": 28392, "type": "quantitative"}, "text": {"value": "ATR[10]"}}}
  ]
}
]
}
